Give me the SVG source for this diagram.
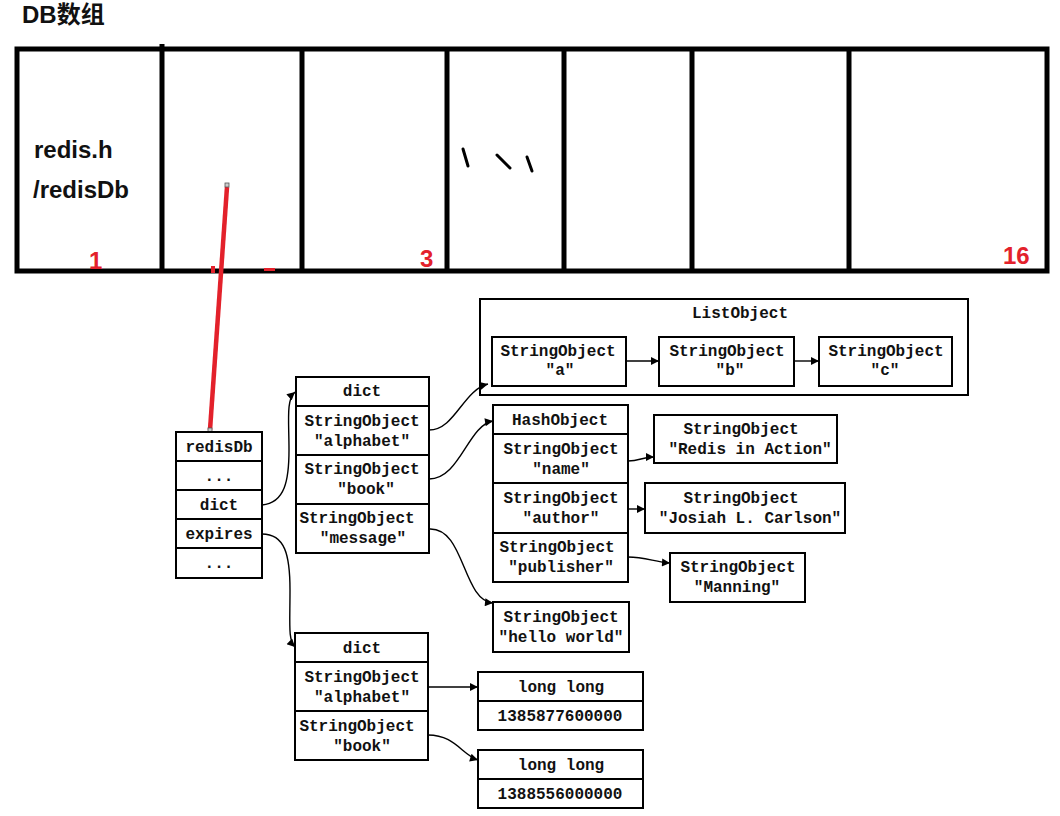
<svg xmlns="http://www.w3.org/2000/svg" width="1060" height="816" viewBox="0 0 1060 816">
<style>
.n{fill:#fff;stroke:#000;stroke-width:2}
.t{font-family:"Liberation Mono","DejaVu Sans Mono",monospace;font-size:16px;font-weight:bold;fill:#111;text-anchor:middle}
.c{fill:none;stroke:#000;stroke-width:1.4}
.big{font-family:"Liberation Sans","Noto Sans CJK SC",sans-serif;font-weight:bold;font-size:24px;fill:#111}
.red{font-family:"Liberation Sans",sans-serif;font-weight:bold;font-size:24px;fill:#e3212b}
</style>
<defs>
<marker id="ah" viewBox="0 0 10 10" refX="10" refY="5" markerWidth="9" markerHeight="8" markerUnits="userSpaceOnUse" orient="auto">
<path d="M0,0 L10,5 L0,10 Z" fill="#000"/>
</marker>
</defs>
<rect width="1060" height="816" fill="#fff"/>

<g id="title"><text class="big" x="22" y="23">DB数组</text></g>

<g id="db-array">
<rect x="17" y="49" width="1030" height="222" fill="none" stroke="#000" stroke-width="5"/>
<g stroke="#000" stroke-width="5">
<line x1="162" y1="44" x2="162" y2="271"/>
<line x1="302" y1="49" x2="302" y2="271"/>
<line x1="447" y1="49" x2="447" y2="271"/>
<line x1="564" y1="49" x2="564" y2="271"/>
<line x1="692" y1="49" x2="692" y2="271"/>
<line x1="849" y1="49" x2="849" y2="271"/>
</g>
<text class="big" x="34" y="158">redis.h</text>
<text class="big" x="33" y="198">/redisDb</text>
<text class="red" x="89" y="269">1</text>
<text class="red" x="420" y="267">3</text>
<text class="red" x="1003" y="264">16</text>
<g stroke="#000" stroke-width="3" stroke-linecap="round" fill="none">
<path d="M463,149 L468,166"/>
<path d="M497,155 L510,168"/>
<path d="M527,157 L532,171"/>
</g>
</g>

<g id="pointer">
<line x1="227" y1="187" x2="210" y2="430" stroke="#e3212b" stroke-width="4.5"/>
<rect x="211" y="266" width="4" height="7" fill="#e3212b"/>
<rect x="264" y="268" width="11" height="3" fill="#e3212b"/>
<rect x="225" y="183" width="4" height="4" fill="#ccc" stroke="#555" stroke-width="0.8"/>
<rect x="208" y="428" width="4" height="4" fill="#ccc" stroke="#555" stroke-width="0.8"/>
</g>

<g id="redisDb">
<rect class="n" x="176" y="432" width="86" height="146"/>
<line x1="176" y1="461" x2="262" y2="461" stroke="#000" stroke-width="2"/>
<line x1="176" y1="490" x2="262" y2="490" stroke="#000" stroke-width="2"/>
<line x1="176" y1="519" x2="262" y2="519" stroke="#000" stroke-width="2"/>
<line x1="176" y1="548" x2="262" y2="548" stroke="#000" stroke-width="2"/>
<text class="t" x="219" y="452">redisDb</text>
<text class="t" x="219" y="481">...</text>
<text class="t" x="219" y="510">dict</text>
<text class="t" x="219" y="539">expires</text>
<text class="t" x="219" y="568">...</text>
</g>

<g id="dict1">
<rect class="n" x="296" y="377" width="133" height="176"/>
<line x1="296" y1="406" x2="429" y2="406" stroke="#000" stroke-width="2"/>
<line x1="296" y1="455" x2="429" y2="455" stroke="#000" stroke-width="2"/>
<line x1="296" y1="504" x2="429" y2="504" stroke="#000" stroke-width="2"/>
<text class="t" x="362" y="396">dict</text>
<text class="t" x="362" y="426">StringObject</text>
<text class="t" x="362" y="446">"alphabet"</text>
<text class="t" x="362" y="474">StringObject</text>
<text class="t" x="366" y="494">"book"</text>
<text class="t" x="357" y="523">StringObject</text>
<text class="t" x="363" y="543">"message"</text>
</g>

<g id="listobject">
<rect class="n" x="480" y="299" width="488" height="96"/>
<text class="t" x="740" y="318">ListObject</text>
</g>
<g id="list-a">
<rect class="n" x="492" y="337" width="134" height="49"/>
<text class="t" x="558" y="356">StringObject</text>
<text class="t" x="560" y="375">"a"</text>
</g>
<g id="list-b">
<rect class="n" x="659" y="337" width="135" height="49"/>
<text class="t" x="727" y="356">StringObject</text>
<text class="t" x="730" y="375">"b"</text>
</g>
<g id="list-c">
<rect class="n" x="819" y="337" width="133" height="49"/>
<text class="t" x="886" y="356">StringObject</text>
<text class="t" x="885" y="375">"c"</text>
</g>

<g id="hashobject">
<rect class="n" x="493" y="405" width="135" height="177"/>
<line x1="493" y1="434" x2="628" y2="434" stroke="#000" stroke-width="2"/>
<line x1="493" y1="483" x2="628" y2="483" stroke="#000" stroke-width="2"/>
<line x1="493" y1="533" x2="628" y2="533" stroke="#000" stroke-width="2"/>
<text class="t" x="560" y="425">HashObject</text>
<text class="t" x="561" y="454">StringObject</text>
<text class="t" x="561" y="474">"name"</text>
<text class="t" x="561" y="503">StringObject</text>
<text class="t" x="561" y="523">"author"</text>
<text class="t" x="557" y="552">StringObject</text>
<text class="t" x="561" y="572">"publisher"</text>
</g>

<g id="str-redis">
<rect class="n" x="654" y="415" width="183" height="48"/>
<text class="t" x="741" y="434">StringObject</text>
<text class="t" x="750" y="454">"Redis in Action"</text>
</g>
<g id="str-josiah">
<rect class="n" x="645" y="483" width="200" height="50"/>
<text class="t" x="741" y="503">StringObject</text>
<text class="t" x="750" y="523">"Josiah L. Carlson"</text>
</g>
<g id="str-manning">
<rect class="n" x="670" y="553" width="135" height="49"/>
<text class="t" x="738" y="572">StringObject</text>
<text class="t" x="737" y="592">"Manning"</text>
</g>
<g id="str-hello">
<rect class="n" x="493" y="602" width="136" height="50"/>
<text class="t" x="561" y="622">StringObject</text>
<text class="t" x="561" y="642">"hello world"</text>
</g>

<g id="dict2">
<rect class="n" x="295" y="633" width="133" height="127"/>
<line x1="295" y1="662" x2="428" y2="662" stroke="#000" stroke-width="2"/>
<line x1="295" y1="711" x2="428" y2="711" stroke="#000" stroke-width="2"/>
<text class="t" x="362" y="653">dict</text>
<text class="t" x="362" y="682">StringObject</text>
<text class="t" x="362" y="702">"alphabet"</text>
<text class="t" x="357" y="731">StringObject</text>
<text class="t" x="362" y="751">"book"</text>
</g>

<g id="longlong1">
<rect class="n" x="478" y="672" width="165" height="58"/>
<line x1="478" y1="701" x2="643" y2="701" stroke="#000" stroke-width="2"/>
<text class="t" x="561" y="692">long long</text>
<text class="t" x="560" y="721">1385877600000</text>
</g>
<g id="longlong2">
<rect class="n" x="478" y="750" width="165" height="58"/>
<line x1="478" y1="779" x2="643" y2="779" stroke="#000" stroke-width="2"/>
<text class="t" x="561" y="770">long long</text>
<text class="t" x="560" y="799">1388556000000</text>
</g>

<g id="connectors">
<path class="c" marker-end="url(#ah)" d="M262,505 C285,503 289,480 289,450 C289,420 286,400 295,392"/>
<path class="c" marker-end="url(#ah)" d="M262,534 C285,534 290,555 290,590 C290,625 288,640 295,647"/>
<path class="c" marker-end="url(#ah)" d="M429,430 C455,430 463,390 488,384"/>
<path class="c" marker-end="url(#ah)" d="M429,479 C460,479 468,425 493,421"/>
<path class="c" marker-end="url(#ah)" d="M429,529 C465,527 462,600 493,603"/>
<path class="c" marker-end="url(#ah)" d="M628,461 C640,461 642,457 654,457"/>
<path class="c" marker-end="url(#ah)" d="M628,509 L645,509"/>
<path class="c" marker-end="url(#ah)" d="M628,557 C645,557 655,562 670,563"/>
<path class="c" marker-end="url(#ah)" d="M626,361 L659,361"/>
<path class="c" marker-end="url(#ah)" d="M794,361 L819,361"/>
<path class="c" marker-end="url(#ah)" d="M428,687 L478,687"/>
<path class="c" marker-end="url(#ah)" d="M428,735 C455,735 462,755 478,760"/>
</g>
</svg>
